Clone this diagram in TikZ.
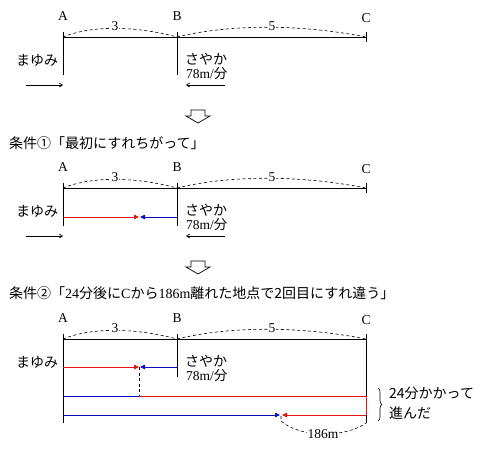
\documentclass[tikz,border=0pt]{standalone}
\usepackage{fontspec}
\setmainfont{Liberation Serif}
\newfontfamily\jp{Noto Sans CJK JP}
\usetikzlibrary{arrows.meta,decorations.pathreplacing}
\definecolor{walkred}{RGB}{225,20,20}
\definecolor{walkblue}{RGB}{10,10,190}

\begin{document}
\begin{tikzpicture}[x=1pt,y=-1pt,
    road/.style={line width=0.8pt},
    gap/.style={line width=0.6pt, dash pattern=on 3pt off 2.5pt},
    ptlbl/.style={font=\fontsize{13.5}{14}\selectfont, inner sep=0pt},
    numlbl/.style={font=\fontsize{13.5}{14}\selectfont, inner sep=0.5pt, fill=white},
    jtext/.style={font=\jp\fontsize{14}{15}\selectfont, inner sep=0pt, anchor=west},
    redgo/.style={walkred, line width=0.8pt},
    bluego/.style={walkblue, line width=0.8pt},
    tip/.style={-{Triangle[length=5pt,width=4.5pt]}},
    dirarrow/.style={-{Straight Barb[length=3pt,width=4pt]}, line width=0.7pt},
    downarrow/.style={line width=0.7pt}]
    \useasboundingbox (0,0) rectangle (486,451);

    % Section 1: road
    \node[ptlbl] (A1) at (63,16) {A};
    \node[ptlbl] (B1) at (177,16) {B};
    \node[ptlbl] (C1) at (366,18) {C};
    \draw[road] (63,37) -- (366,37);
    \draw[road] (63,32) -- (63,75);
    \draw[road] (177,32) -- (177,75);
    \draw[road] (366,32) -- (366,42);
    \draw[gap] (63,37) .. controls (95,24) and (140,27) .. (177,37);
    \draw[gap] (177,37) .. controls (230,24) and (300,24) .. (366,37);
    \node[numlbl] (ab1) at (115,26) {3};
    \node[numlbl] (bc1) at (272,26) {5};

    % Section 1: walkers
    \node[jtext] (may1) at (16,60) {まゆみ};
    \node[jtext] (say1) at (185,59) {さやか};
    \node[ptlbl, anchor=west] (sp1) at (186,74) {78m/{\jp 分}};
    \draw[dirarrow] (26,85) -- (63,85);
    \draw[dirarrow] (225,85) -- (186,85);

    % Arrow down
    \draw[downarrow] (191,110) -- (205,110) -- (205,116) -- (210,116) -- (198,123) -- (186,116) -- (191,116) -- cycle;

    % Condition 1
    \node[jtext] (cond1) at (9,143) {条件①「最初にすれちがって」};

    % Section 2: road
    \node[ptlbl] (A2) at (63,167) {A};
    \node[ptlbl] (B2) at (177,167) {B};
    \node[ptlbl] (C2) at (366,169) {C};
    \draw[road] (63,188) -- (366,188);
    \draw[road] (63,183) -- (63,226);
    \draw[road] (177,183) -- (177,226);
    \draw[road] (366,183) -- (366,193);
    \draw[gap] (63,188) .. controls (95,175) and (140,178) .. (177,188);
    \draw[gap] (177,188) .. controls (230,175) and (300,175) .. (366,188);
    \node[numlbl] (ab2) at (115,177) {3};
    \node[numlbl] (bc2) at (272,177) {5};

    % Section 2: walkers
    \node[jtext] (may2) at (16,211) {まゆみ};
    \node[jtext] (say2) at (185,210) {さやか};
    \node[ptlbl, anchor=west] (sp2) at (186,225) {78m/{\jp 分}};
    \draw[redgo, tip] (63,217) -- (139,217);
    \draw[bluego, tip] (177,217) -- (140,217);
    \draw[dirarrow] (26,236) -- (63,236);
    \draw[dirarrow] (225,236) -- (186,236);

    % Arrow down
    \draw[downarrow] (191,261) -- (205,261) -- (205,267) -- (210,267) -- (198,274) -- (186,267) -- (191,267) -- cycle;

    % Condition 2
    \node[jtext] (cond2) at (9,293) {条件②「{\rmfamily 24}分後に{\rmfamily C}から{\rmfamily 186m}離れた地点で2回目にすれ違う」};

    % Section 3: road
    \node[ptlbl] (A3) at (63,318) {A};
    \node[ptlbl] (B3) at (177,318) {B};
    \node[ptlbl] (C3) at (366,320) {C};
    \draw[road] (63,339) -- (366,339);
    \draw[road] (63,334) -- (63,423);
    \draw[road] (177,334) -- (177,377);
    \draw[road] (366,334) -- (366,423);
    \draw[gap] (63,339) .. controls (95,326) and (140,329) .. (177,339);
    \draw[gap] (177,339) .. controls (230,326) and (300,326) .. (366,339);
    \node[numlbl] (ab3) at (115,328) {3};
    \node[numlbl] (bc3) at (272,328) {5};

    % Section 3: walkers
    \node[jtext] (may3) at (16,362) {まゆみ};
    \node[jtext] (say3) at (185,361) {さやか};
    \node[ptlbl, anchor=west] (sp3) at (186,376) {78m/{\jp 分}};
    \draw[redgo, tip] (63,367) -- (139,367);
    \draw[bluego, tip] (177,367) -- (140,367);
    \draw[gap] (139,367) -- (139,396);
    \draw[bluego] (63,396) -- (139,396);
    \draw[redgo] (139,396) -- (366,396) -- (366,415);
    \draw[redgo, tip] (366,415) -- (282,415);
    \draw[bluego, tip] (63,415) -- (280,415);

    % 24 minutes
    \draw[line width=0.6pt, decorate, decoration={brace, amplitude=4pt}] (378,388) -- (378,421);
    \node[jtext] (t1) at (389,393) {24分かかって};
    \node[jtext] (t2) at (389,413) {進んだ};

    % 186m
    \draw[gap] (281,416) -- (281,421) .. controls (300,438) and (345,438) .. (366,423);
    \node[numlbl] (d186) at (323,434) {186m};
\end{tikzpicture}
\end{document}
